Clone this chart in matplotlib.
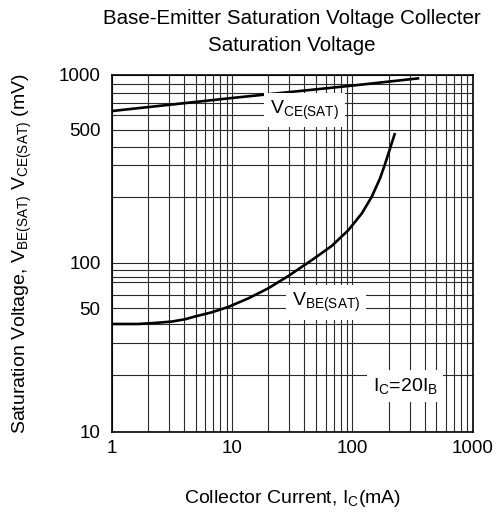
import numpy as np
import matplotlib
matplotlib.use("Agg")
import matplotlib.pyplot as plt
from matplotlib.ticker import FixedLocator, NullFormatter, FixedFormatter

plt.rcParams["font.family"] = ["Liberation Sans", "DejaVu Sans"]
plt.rcParams["mathtext.fontset"] = "custom"
plt.rcParams["mathtext.rm"] = "Liberation Sans"
plt.rcParams["mathtext.it"] = "Liberation Sans"

# --- data (Ic in mA, voltage in mV) ---
ic_vce = [1, 10, 100, 360]
vce_sat = [630, 745, 880, 960]

ic_vbe = [1, 1.66, 2.29, 3.15, 4.07, 4.9, 6.78, 9.3, 13.7, 20, 29.4,
          46, 67.4, 92.7, 120, 145, 170, 187, 206, 226]
vbe_sat = [40, 40, 40.6, 41.4, 42.8, 44.5, 47.3, 51, 57.2, 64.8, 81,
           103, 119.5, 141, 168, 200, 253, 305, 392, 480]

x_major = [1, 10, 100, 1000]
x_major_labels = ["1", "10", "100", "1000"]
y_major = [10, 50, 100, 500, 1000]
y_major_labels = ["10", "50", "100", "500", "1000"]

# the printed chart's y grid is not quite a clean log scale, so map
# each grid value to where it sits on the page (pixels above the x axis)
y_grid_vals = [10, 20, 30, 40, 50, 60, 70, 80, 90, 100,
               200, 300, 400, 500, 600, 700, 800, 900, 1000]
y_grid_pos = [0, 56.7, 88.7, 107.7, 123.2, 137.0, 149.7, 155.0, 161.7, 168.7,
              235.0, 266.7, 284.7, 301.7, 316.7, 329.0, 339.0, 347.7, 357.0]
_lg = np.log10(y_grid_vals)


def y_fwd(v):
    v = np.clip(np.asarray(v, dtype=float), 1e-3, None)
    return np.interp(np.log10(v), _lg, y_grid_pos,
                     left=-1e3, right=1e3 + 400)


def y_inv(p):
    return 10 ** np.interp(p, y_grid_pos, _lg)


fig = plt.figure(figsize=(4.97, 5.13), dpi=100)
ax = fig.add_axes([0.2247, 0.1585, 0.7264, 0.6960])

ax.set_xscale("log")
ax.set_yscale("function", functions=(y_fwd, y_inv))
ax.set_xlim(1, 1000)
ax.set_ylim(10, 1000)

ax.plot(ic_vce, vce_sat, color="black", lw=1.9, solid_capstyle="butt",
        solid_joinstyle="round")
ax.plot(ic_vbe, vbe_sat, color="black", lw=1.9, solid_capstyle="butt",
        solid_joinstyle="round")

# ticks / grid
x_minor = [m * d for d in (1, 10, 100) for m in range(2, 10)]
ax.xaxis.set_major_locator(FixedLocator(x_major))
ax.xaxis.set_major_formatter(FixedFormatter(x_major_labels))
ax.xaxis.set_minor_locator(FixedLocator(x_minor))
ax.xaxis.set_minor_formatter(NullFormatter())

y_minor = [v for v in y_grid_vals if v not in y_major]
ax.yaxis.set_major_locator(FixedLocator(y_major))
ax.yaxis.set_major_formatter(FixedFormatter(y_major_labels))
ax.yaxis.set_minor_locator(FixedLocator(y_minor))
ax.yaxis.set_minor_formatter(NullFormatter())

ax.tick_params(which="both", length=0, labelsize=13.5, colors="black")
ax.tick_params(axis="x", pad=6)
ax.tick_params(axis="y", pad=8)
ax.set_axisbelow(True)
ax.grid(which="both", color="#2a2a2a", lw=0.8)
for s in ax.spines.values():
    s.set_linewidth(1.2)
    s.set_color("black")

# labels inside the plot
box = dict(facecolor="white", edgecolor="none", boxstyle="square,pad=0.3")
ax.text(0.535, 0.901, r"V$_{\mathrm{CE(SAT)}}$", transform=ax.transAxes,
        fontsize=14, ha="center", va="center", bbox=box, zorder=5)
ax.text(0.594, 0.363, r"V$_{\mathrm{BE(SAT)}}$", transform=ax.transAxes,
        fontsize=14, ha="center", va="center", bbox=box, zorder=5)
ax.text(0.8125, 0.128, r"I$_{\mathrm{C}}$=20I$_{\mathrm{B}}$", transform=ax.transAxes,
        fontsize=14, ha="center", va="center", bbox=box, zorder=5)

ax.set_title("Base-Emitter Saturation Voltage Collecter\nSaturation Voltage",
             fontsize=14.8, pad=17, linespacing=1.55)
ax.set_xlabel(r"Collector Current, I$_{\mathrm{C}}$(mA)", fontsize=14, labelpad=22)
ax.set_ylabel(r"Saturation Voltage, V$_{\mathrm{BE(SAT)}}$ V$_{\mathrm{CE(SAT)}}$ (mV)",
              fontsize=14, labelpad=18)

fig.savefig("out.png", dpi=100, facecolor="white")
